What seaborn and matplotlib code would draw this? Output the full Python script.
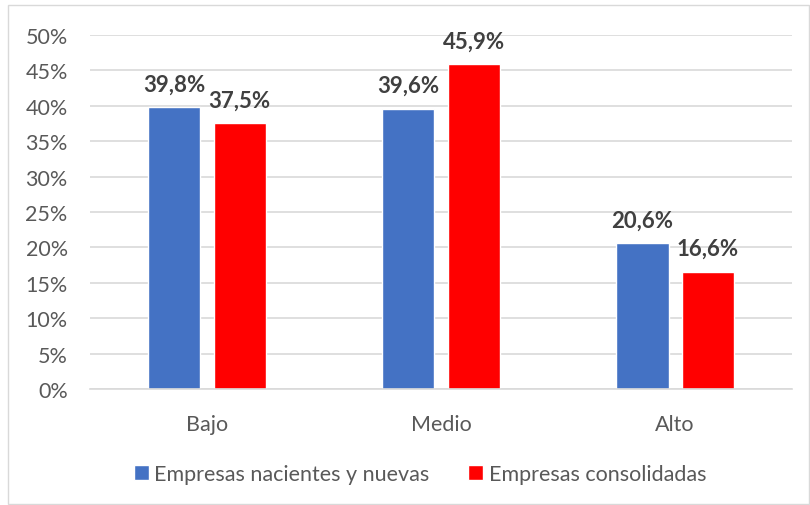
import numpy as np
import pandas as pd
import seaborn as sns
import matplotlib.pyplot as plt
from matplotlib.patches import Rectangle

# data
niveles = ['Bajo', 'Medio', 'Alto']
nacientes = [39.8, 39.6, 20.6]
consolidadas = [37.5, 45.9, 16.6]
series = ['Empresas nacientes y nuevas', 'Empresas consolidadas']
colores = ['#4472C4', '#FF0000']

df = pd.DataFrame({
    'nivel': niveles * 2,
    'valor': nacientes + consolidadas,
    'serie': [series[0]] * 3 + [series[1]] * 3,
})

sns.set_style('white')
plt.rcParams['font.family'] = ['Lato', 'DejaVu Sans']

fig = plt.figure(figsize=(8.1, 5.06), dpi=100)
ax = fig.add_axes([0.111, 0.229, 0.867, 0.70])

sns.barplot(data=df, x='nivel', y='valor', hue='serie', palette=colores,
            saturation=1, width=0.56, gap=0.2, ax=ax, legend=True)

# data labels
for cont in ax.containers:
    labels = [f'{v:.1f}%'.replace('.', ',') for v in cont.datavalues]
    ax.bar_label(cont, labels=labels, padding=9, fontsize=16,
                 fontweight='bold', color='#404040')

ax.set_ylim(0, 50)
ax.set_yticks(range(0, 51, 5))
ax.set_yticklabels([f'{t}%' for t in range(0, 51, 5)])
ax.set_xlim(-0.5, 2.5)
ax.yaxis.grid(True, color='#D9D9D9', linewidth=1.2)
ax.set_axisbelow(True)
for s in ['top', 'right', 'left']:
    ax.spines[s].set_visible(False)
ax.spines['bottom'].set_color('#D9D9D9')
ax.spines['bottom'].set_linewidth(1.2)
ax.tick_params(axis='y', labelsize=15.5, labelcolor='#595959', length=0, pad=16)
ax.tick_params(axis='x', labelsize=15.5, labelcolor='#595959', length=0, pad=18)
ax.set_xlabel('')
ax.set_ylabel('')

ax.legend(loc='center', bbox_to_anchor=(0.47, -0.24), ncol=2, frameon=False,
          fontsize=15.5, labelcolor='#595959', handlelength=0.7, handleheight=0.7,
          handletextpad=0.25, columnspacing=1.8)

# chart border
fig.patches.append(Rectangle((8 / 810, 1 / 506), 801 / 810, 499 / 506,
                             transform=fig.transFigure, fill=False,
                             edgecolor='#D9D9D9', linewidth=1))

fig.savefig('out.png', dpi=100)
